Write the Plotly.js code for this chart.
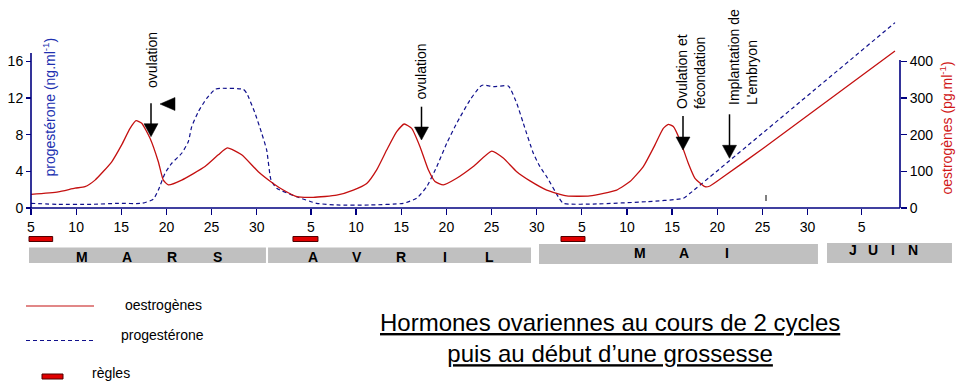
<!DOCTYPE html>
<html>
<head>
<meta charset="utf-8">
<script src="https://cdn.plot.ly/plotly-3.0.1.min.js"></script>
<style>html,body{margin:0;padding:0;background:#fff;}#chart{width:965px;height:391px;}</style>
</head>
<body>
<div id="chart"></div>
<script>
// ---- DATA (day index: days since 1 March; 4 = 5 mars) ----
const oestro_day = [4.0, 7.02, 8.87, 9.98, 11.09, 12.94, 14.04, 14.97, 15.63, 16.26, 17.18, 18.10, 18.65, 19.21, 20.69, 23.27, 24.74, 25.74, 27.33, 29.17, 30.94, 31.94, 33.42, 35.26, 37.85, 39.69, 41.18, 42.28, 43.39, 44.50, 45.34, 46.16, 47.08, 48.00, 48.74, 49.66, 51.14, 52.98, 55.02, 56.30, 57.79, 59.26, 61.11, 63.32, 65.90, 68.86, 70.33, 71.81, 73.10, 74.02, 74.58, 75.13, 75.87, 76.79, 77.53, 78.64, 79.19, 80.67, 85.10, 99.68];
const oestro_pg = [37, 44, 54, 58, 76, 126, 172, 217, 238, 231, 190, 126, 76, 63, 76, 113, 145, 164, 145, 99, 65, 49, 31, 29, 35, 49, 67, 104, 158, 208, 229, 217, 167, 104, 72, 63, 81, 113, 155, 136, 99, 74, 49, 33, 33, 49, 72, 113, 172, 217, 228, 222, 185, 122, 81, 58, 60, 85, 163, 428];

const proges_day = [4.0, 7.02, 10.72, 13.67, 16.26, 17.54, 18.10, 18.84, 19.58, 20.69, 21.42, 21.80, 22.53, 23.46, 24.38, 24.93, 27.51, 27.89, 28.81, 29.55, 30.10, 30.58, 31.21, 33.42, 35.64, 37.85, 41.54, 45.23, 46.71, 47.82, 48.93, 50.04, 51.14, 52.62, 53.72, 54.09, 55.20, 56.86, 57.79, 58.52, 59.63, 60.37, 61.11, 62.39, 62.95, 66.65, 72.18, 76.24, 76.98, 99.68];
const proges_ng = [0.51, 0.40, 0.40, 0.51, 0.51, 0.95, 1.96, 3.78, 4.87, 5.97, 7.23, 8.87, 10.50, 11.96, 12.94, 13.05, 12.94, 12.51, 10.33, 8.15, 6.32, 3.05, 2.15, 1.23, 0.51, 0.33, 0.33, 0.51, 1.06, 2.32, 4.50, 7.06, 9.24, 11.78, 13.23, 13.41, 13.23, 13.30, 11.42, 9.24, 5.97, 4.50, 3.41, 1.23, 0.51, 0.44, 0.69, 1.06, 1.60, 20.21];

const tick_days = [4, 9, 14, 19, 24, 29, 35, 40, 45, 50, 55, 60, 65, 70, 75, 80, 85, 90, 96];
const tick_labels = ['5','10','15','20','25','30','5','10','15','20','25','30','5','10','15','20','25','30','5'];
const left_ticks = [0, 4, 8, 12, 16];
const right_ticks = [0, 100, 200, 300, 400];

const regles_start = [3.78, 33.01, 62.69];
const regles_end = [6.40, 35.78, 65.35];

const month_names = ['MARS', 'AVRIL', 'MAI', 'JUIN'];
const month_start = [3.78, 30.25, 60.26, 92.15];
const month_end = [30.02, 59.37, 91.15, 105.99];

const events = ['ovulation', 'ovulation', 'Ovulation et<br>fécondation', 'Implantation de<br>L\'embryon'];

// ---- LAYOUT HELPERS (pixel -> paper) ----
const L = 25, R = 957, T = 20, B = 208;
const PX = p => (p - L) / (R - L);
const PY = p => (B - p) / (B - T);
const NAVY = '#000080';
const RED = '#c41010';
const BLUE = '#10108c';
const FONT = 'Liberation Sans, Arial, sans-serif';

const traces = [
  {x: proges_day, y: proges_ng, yaxis: 'y', type: 'scatter', mode: 'lines',
   line: {color: BLUE, width: 1.2, dash: '4px,3px', shape: 'spline', smoothing: 0.5}, hoverinfo: 'skip'},
  {x: oestro_day, y: oestro_pg, yaxis: 'y2', type: 'scatter', mode: 'lines',
   line: {color: RED, width: 1.3, shape: 'spline', smoothing: 0.5}, hoverinfo: 'skip'}
];

const shapes = [];
const annotations = [];

// axis lines
shapes.push({type: 'line', xref: 'x', yref: 'paper', x0: 4, x1: 100.235, y0: 0, y1: 0, line: {color: NAVY, width: 1.6}});
shapes.push({type: 'line', xref: 'x', yref: 'paper', x0: 4, x1: 4, y0: 0, y1: PY(53), line: {color: NAVY, width: 1.6}});
shapes.push({type: 'line', xref: 'x', yref: 'paper', x0: 100.235, x1: 100.235, y0: 0, y1: PY(60), line: {color: NAVY, width: 1.6}});

// month bands
const bandY = [[247.5, 263], [247.5, 263], [244, 264], [243, 263]];
const letterPos = [{first: 82, step: 45, y: 256.5}, {first: 313, step: 44, y: 256.5}, {first: 640, step: 43.5, y: 253}, {first: 853, step: 20, y: 250}];
month_names.forEach((m, i) => {
  shapes.push({type: 'rect', xref: 'x', yref: 'paper', x0: month_start[i], x1: month_end[i],
    y0: PY(bandY[i][1]), y1: PY(bandY[i][0]), fillcolor: '#c0c0c0', line: {width: 0}});
  m.split('').forEach((ch, k) => {
    annotations.push({xref: 'paper', yref: 'paper', x: PX(letterPos[i].first + k * letterPos[i].step), y: PY(letterPos[i].y),
      text: '<b>' + ch + '</b>', showarrow: false, xanchor: 'center', yanchor: 'middle',
      font: {family: FONT, size: 14, color: '#000'}});
  });
});

// regles bars
regles_start.forEach((s, i) => {
  shapes.push({type: 'rect', xref: 'x', yref: 'paper', x0: s, x1: regles_end[i],
    y0: PY(241.5), y1: PY(236.5), fillcolor: '#e00000', line: {color: '#500000', width: 1}});
});

// small mark near 25 mai
shapes.push({type: 'line', xref: 'paper', yref: 'paper', x0: PX(766), x1: PX(766), y0: PY(195), y1: PY(201), line: {color: '#000', width: 1}});

// left-pointing black triangle
shapes.push({type: 'path', xref: 'paper', yref: 'paper',
  path: `M ${PX(160)},${PY(104)} L ${PX(175)},${PY(97.5)} L ${PX(175)},${PY(110.5)} Z`,
  fillcolor: '#000', line: {color: '#000', width: 0.5}});

// event texts and arrows (arrow = line + filled triangle)
const evText = [{x: 152, y: 60}, {x: 420, y: 71.5}, {x: 691, y: 72}, {x: 743, y: 57}];
const evArrow = [{x: 151, tip: 136.7, tail: 103.3}, {x: 421.5, tip: 140, tail: 106.7}, {x: 683, tip: 150, tail: 116}, {x: 729.5, tip: 158.3, tail: 114.3}];
const HW = 7, HH = 13;
events.forEach((t, i) => {
  annotations.push({xref: 'paper', yref: 'paper', x: PX(evText[i].x), y: PY(evText[i].y), text: t,
    textangle: -90, showarrow: false, align: 'left', xanchor: 'center', yanchor: 'middle',
    font: {family: FONT, size: 14, color: '#000'}});
  const a = evArrow[i];
  shapes.push({type: 'line', xref: 'paper', yref: 'paper', x0: PX(a.x), x1: PX(a.x), y0: PY(a.tail), y1: PY(a.tip - HH + 1),
    line: {color: '#000', width: 1.5}});
  shapes.push({type: 'path', xref: 'paper', yref: 'paper',
    path: `M ${PX(a.x)},${PY(a.tip)} L ${PX(a.x - HW)},${PY(a.tip - HH)} L ${PX(a.x + HW)},${PY(a.tip - HH)} Z`,
    fillcolor: '#000', line: {color: '#000', width: 0.5}});
});

// axis titles
annotations.push({xref: 'paper', yref: 'paper', x: PX(49), y: PY(107.5), text: 'progestérone (ng.ml<sup>-1</sup>)',
  textangle: -90, showarrow: false, xanchor: 'center', yanchor: 'middle', font: {family: FONT, size: 14, color: '#2030b0'}});
annotations.push({xref: 'paper', yref: 'paper', x: PX(946), y: PY(128.5), text: 'oestrogènes (pg.ml<sup>-1</sup>)',
  textangle: -90, showarrow: false, xanchor: 'center', yanchor: 'middle', font: {family: FONT, size: 14, color: '#d01818'}});

// legend
shapes.push({type: 'line', xref: 'paper', yref: 'paper', x0: PX(26), x1: PX(94), y0: PY(306), y1: PY(306), line: {color: RED, width: 1.2}});
shapes.push({type: 'line', xref: 'paper', yref: 'paper', x0: PX(26), x1: PX(94), y0: PY(340.5), y1: PY(340.5), line: {color: BLUE, width: 1.2, dash: '4px,3px'}});
shapes.push({type: 'rect', xref: 'paper', yref: 'paper', x0: PX(42), x1: PX(63), y0: PY(379), y1: PY(374), fillcolor: '#e00000', line: {color: '#500000', width: 1}});
[['oestrogènes', 123, 305], ['progestérone', 119, 335], ['règles', 90, 373]].forEach(l => {
  annotations.push({xref: 'paper', yref: 'paper', x: PX(l[1]), y: PY(l[2]), text: l[0], showarrow: false,
    xanchor: 'left', yanchor: 'middle', font: {family: FONT, size: 14, color: '#000'}});
});

// title
annotations.push({xref: 'paper', yref: 'paper', x: PX(610), y: PY(337.5),
  text: '<u>Hormones ovariennes au cours de 2 cycles</u><br><u>puis au début d’une grossesse</u>',
  showarrow: false, xanchor: 'center', yanchor: 'middle', align: 'center',
  font: {family: FONT, size: 24, color: '#000'}});

const layout = {
  width: 965, height: 391,
  margin: {l: L, r: 965 - R, t: T, b: 391 - B},
  paper_bgcolor: '#fff', plot_bgcolor: 'rgba(0,0,0,0)',
  showlegend: false,
  font: {family: FONT, size: 14, color: '#000'},
  xaxis: {range: [3.3355, 106.547], tickmode: 'array', tickvals: tick_days, ticktext: tick_labels,
    ticks: 'outside', ticklen: 6, tickcolor: NAVY, tickwidth: 1.3, showline: false, showgrid: false, zeroline: false,
    tickfont: {family: FONT, size: 14, color: '#000'}},
  yaxis: {range: [0, 20.5], tickmode: 'array', tickvals: left_ticks, anchor: 'free', position: PX(31), side: 'left',
    ticks: 'outside', ticklen: 5, tickcolor: NAVY, tickwidth: 1.3, showline: false, showgrid: false, zeroline: false,
    tickfont: {family: FONT, size: 14, color: '#000'}},
  yaxis2: {range: [0, 512.5], tickmode: 'array', tickvals: right_ticks, overlaying: 'y', side: 'right', anchor: 'free', position: PX(900),
    ticks: 'outside', ticklen: 6, tickcolor: NAVY, tickwidth: 1.3, showline: false, showgrid: false, zeroline: false,
    tickfont: {family: FONT, size: 14, color: '#000'}},
  shapes: shapes,
  annotations: annotations
};

Plotly.newPlot('chart', traces, layout, {displayModeBar: false, staticPlot: true}).then(() => {
  // remove empty placeholder text nodes (unused titles)
  document.querySelectorAll('#chart text').forEach(t => {
    if (!t.textContent.trim()) t.remove();
  });
});
</script>
</body>
</html>
